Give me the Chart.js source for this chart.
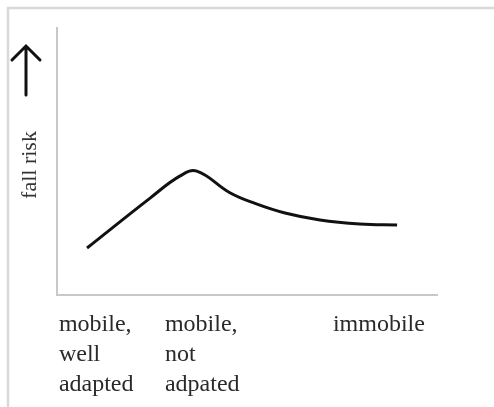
<!DOCTYPE html>
<html>
<head>
<meta charset="utf-8">
<script src="https://cdn.jsdelivr.net/npm/chart.js@4"></script>
<style>
  html, body { margin: 0; padding: 0; background: #fff; }
  #wrap { width: 494px; height: 407px; position: relative; }
</style>
</head>
<body>
<div id="wrap"><canvas id="chart_fall_risk" width="494" height="407"></canvas></div>
<script>
// curve (x: 0-100 along the axis, y: 0-100 up the axis)
const curveX = [7.9, 24.5, 32.4, 36.8, 45.5, 52.1, 60.0, 69.2, 79.7, 89.5];
const curveY = [17.6, 36.3, 44.6, 46.4, 38.3, 34.3, 30.7, 28.1, 26.6, 26.2];

// category labels sit left-aligned at these x positions
const tickPositions = [0.5, 28.4, 72.6];
const tickLabels = [
  ['mobile,', 'well', 'adapted'],
  ['mobile,', 'not', 'adpated'],
  ['immobile']
];
const yTitle = 'fall risk';

const serif = "'Liberation Serif', 'Times New Roman', serif";

// frame, arrow and rotated axis title
const decorations = {
  id: 'decorations',
  beforeDraw(chart) {
    const ctx = chart.ctx;
    ctx.save();
    ctx.fillStyle = '#fff';
    ctx.fillRect(0, 0, chart.width, chart.height);
    ctx.strokeStyle = '#d9d9d9';
    ctx.lineWidth = 2.5;
    ctx.beginPath();
    ctx.moveTo(8, chart.height);
    ctx.lineTo(8, 8);
    ctx.lineTo(chart.width, 8);
    ctx.stroke();
    ctx.restore();
  },
  afterDraw(chart) {
    const ctx = chart.ctx;
    ctx.save();
    ctx.strokeStyle = '#111';
    ctx.lineWidth = 3;
    ctx.lineCap = 'round';
    ctx.beginPath();
    ctx.moveTo(26, 95);
    ctx.lineTo(26, 47);
    ctx.moveTo(12, 60);
    ctx.lineTo(26, 46);
    ctx.lineTo(40, 60);
    ctx.stroke();

    ctx.translate(30, 165);
    ctx.rotate(-Math.PI / 2);
    ctx.fillStyle = '#333';
    ctx.font = '22px ' + serif;
    ctx.textAlign = 'center';
    ctx.textBaseline = 'middle';
    ctx.fillText(yTitle, 0, 0);
    ctx.restore();
  }
};

let data = {
  datasets: [
    {
      data: curveX.map((x, i) => ({ x: x, y: curveY[i] })),
      borderColor: '#111',
      borderWidth: 3,
      pointRadius: 0,
      fill: false,
      tension: 0.4
    }
  ]
};

let options = {
  responsive: false,
  animation: false,
  layout: { padding: { left: 57, top: 28, right: 57, bottom: 0 } },
  plugins: { legend: { display: false }, tooltip: { enabled: false } },
  scales: {
    x: {
      type: 'linear',
      min: 0,
      max: 100,
      afterFit: (s) => { s.height = 112; },
      afterBuildTicks: (s) => { s.ticks = tickPositions.map(v => ({ value: v })); },
      grid: { display: false, drawTicks: false },
      border: { display: true, color: '#c8c8c8', width: 2 },
      ticks: {
        align: 'start',
        padding: 15,
        maxRotation: 0,
        autoSkip: false,
        color: '#2a2a2a',
        font: { family: serif, size: 24, lineHeight: 1.25 },
        callback: (v, i) => tickLabels[i]
      }
    },
    y: {
      min: 0,
      max: 100,
      afterFit: (s) => { s.width = 0; },
      grid: { display: false, drawTicks: false },
      border: { display: true, color: '#c8c8c8', width: 2 },
      ticks: { display: false }
    }
  }
};

new Chart('chart_fall_risk', { type: 'line', plugins: [decorations], data, options });
</script>
</body>
</html>
